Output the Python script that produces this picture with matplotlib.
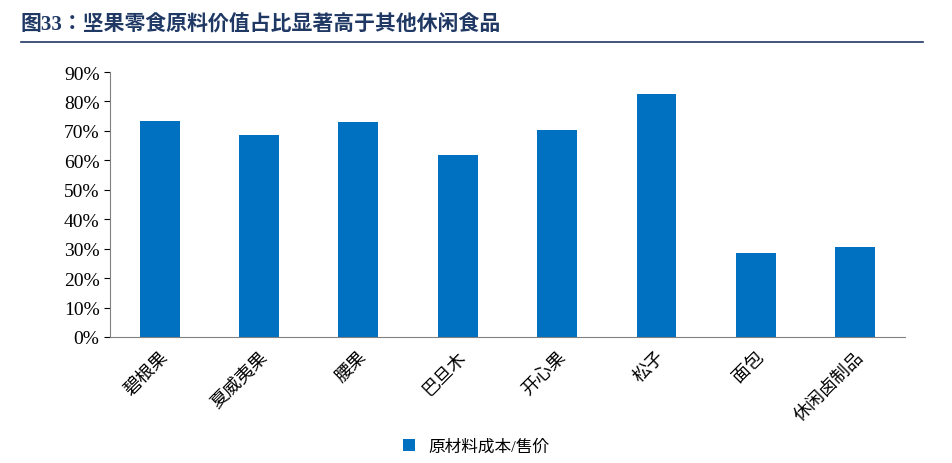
import matplotlib
matplotlib.use("Agg")
import matplotlib.pyplot as plt
from matplotlib import font_manager as fm
from matplotlib.ticker import FuncFormatter, MultipleLocator

cjk_path = None
for f in fm.findSystemFonts():
    if "CJK" in f and ("Regular" in f or "SC" in f):
        cjk_path = f
        break
if cjk_path is None:
    for f in fm.findSystemFonts():
        if "CJK" in f:
            cjk_path = f
            break
if cjk_path:
    fm.fontManager.addfont(cjk_path)
    cjk_name = fm.FontProperties(fname=cjk_path).get_name()
else:
    cjk_name = "Noto Sans CJK SC"
plt.rcParams['font.family'] = ['Liberation Serif', cjk_name, 'Noto Sans CJK SC', 'DejaVu Sans']

categories = ["碧根果", "夏威夷果", "腰果", "巴旦木", "开心果", "松子", "面包", "休闲卤制品"]
values = [73.5, 68.7, 73.1, 61.9, 70.4, 82.7, 28.6, 30.6]
series_name = "原材料成本/售价"
title = "图33：坚果零食原料价值占比显著高于其他休闲食品"

fig = plt.figure(figsize=(9.52, 4.64), dpi=100)
ax = fig.add_axes([0.1155, 0.2716, 0.835, 0.571])
ax.bar(range(len(categories)), values, width=0.4, color="#0070C0", label=series_name)
ax.set_ylim(0, 90)
ax.set_xlim(-0.5, len(categories) - 0.5)
ax.yaxis.set_major_locator(MultipleLocator(10))
ax.yaxis.set_major_formatter(FuncFormatter(lambda v, p: f"{v:.0f}%"))
ax.set_xticks(range(len(categories)))
ax.set_xticklabels(categories, rotation=45, ha="right", rotation_mode="anchor", fontsize=13)
ax.tick_params(axis="y", labelsize=14, direction="out", length=4)
ax.tick_params(axis="x", length=0, pad=8)
for s in ["top", "right"]:
    ax.spines[s].set_visible(False)
for s in ["left", "bottom"]:
    ax.spines[s].set_color("#808080")
fig.text(0.022, 0.945, title, fontsize=15, fontweight="bold", color="#1F3864", va="center")
fig.add_artist(plt.Line2D([0.022, 0.97], [0.908, 0.908], color="#1F3864", lw=1.2))
fig.legend(loc="center", bbox_to_anchor=(0.5, 0.035), frameon=False, fontsize=12,
           handlelength=0.7, handleheight=0.7)
fig.savefig("out.png", dpi=100)
